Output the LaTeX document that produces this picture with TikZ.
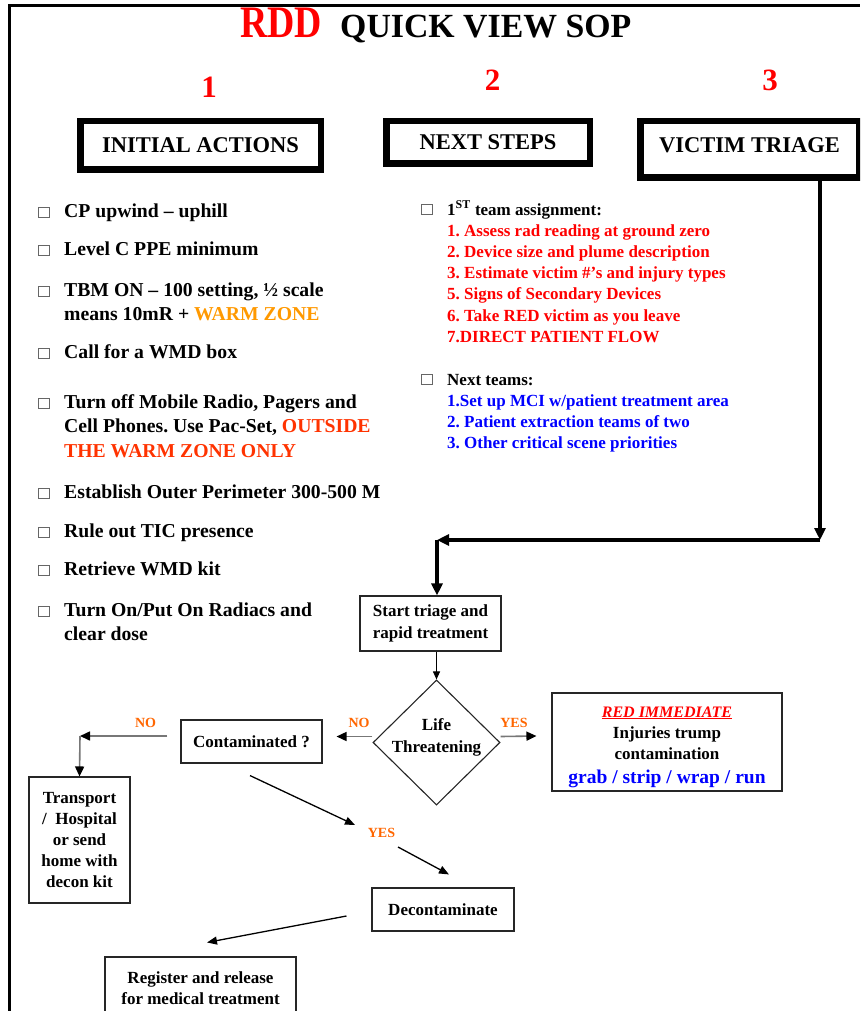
\documentclass[tikz,border=0pt]{standalone}
\usepackage{fontspec}
\setmainfont{Liberation Serif}
\usepackage{graphicx}
\usetikzlibrary{arrows.meta,shapes.geometric}
\definecolor{warm}{HTML}{FF9900}
\definecolor{outside}{HTML}{FF3300}
\definecolor{lblorange}{HTML}{FF6600}
\definecolor{tblue}{HTML}{0000FF}
\definecolor{tred}{HTML}{FF0000}
\definecolor{conn}{HTML}{777777}
\newcommand{\setfs}[2]{\fontsize{#1}{#2}\selectfont}
\newcommand{\rowsl}[1]{\begin{tabular}[t]{@{}l@{}}#1\end{tabular}}
\newcommand{\rowsc}[1]{\begin{tabular}[t]{@{}c@{}}#1\end{tabular}}
\frenchspacing
\begin{document}
\begin{tikzpicture}[x=1pt,y=-1pt,
  hdr/.style={draw, line width=6.5pt, inner sep=0pt, font=\setfs{22.5}{27}\bfseries},
  fbox/.style={draw=black!85, line width=1.1pt, inner sep=0pt, align=center, font=\setfs{17}{21.2}\bfseries},
  item/.style={anchor=base west, inner sep=0pt, font=\setfs{19.7}{24.7}\bfseries},
  mitem/.style={anchor=base west, inner sep=0pt, font=\setfs{17}{21.2}\bfseries},
  chk/.style={draw=black!60, line width=0.7pt, minimum width=11pt, minimum height=10pt, inner sep=0pt},
  num/.style={anchor=base, inner sep=0pt, text=tred, font=\setfs{31}{36}\bfseries},
  lbl/.style={text=lblorange, font=\setfs{14}{16}\bfseries, inner sep=0pt},
  thickarr/.style={line width=3.3pt, -{Triangle[length=12pt,width=11pt]}},
  thinarr/.style={line width=1pt, -{Triangle[length=8pt,width=7pt]}},
  grayarr/.style={draw=conn, line width=1.6pt, -{Triangle[length=10pt,width=9pt,color=black]}},
  diagarr/.style={line width=1.3pt, -{Triangle[length=10pt,width=8pt]}},
]
\useasboundingbox (0,0) rectangle (860,1011);
\clip (0,0) rectangle (860,1011);
\fill[white] (0,0) rectangle (860,1011);
\draw[line width=3pt] (9,1011) -- (9,5.3) -- (860,5.3);

% title
\node[anchor=base west, inner sep=0pt, text=tred, font=\setfs{45}{50}\bfseries] (rdd) at (240,38) {\scalebox{0.84}[1]{RDD}};
\node[anchor=base west, inner sep=0pt, font=\setfs{33.8}{40}\bfseries] (title) at (340,38) {QUICK VIEW SOP};

% numbers
\node[num] (n1) at (209,98) {1};
\node[num] (n2) at (492.5,91) {2};
\node[num] (n3) at (770,91) {3};

% headers
\node[hdr, minimum width=240.5pt, minimum height=48.5pt] (h1) at (200.5,145.5) {INITIAL ACTIONS};
\node[hdr, minimum width=203.5pt, minimum height=42.5pt] (h2) at (488,142.5) {NEXT STEPS};
\node[hdr, minimum width=218.5pt, minimum height=56.5pt] (victim) at (749.5,149.5) {\raisebox{9pt}{VICTIM TRIAGE}};

% left column
\node[chk] (c1) at (44,212) {};
\node[item] (i1) at (64,217) {CP upwind – uphill};
\node[chk] (c2) at (44,250) {};
\node[item] (i2) at (64,255) {Level C PPE minimum};
\node[chk] (c3) at (44,291) {};
\node[item] (i3) at (64,296) {\rowsl{TBM ON – 100 setting, ½ scale\\ means 10mR + \textcolor{warm}{WARM ZONE}}};
\node[chk] (c4) at (44,353) {};
\node[item] (i4) at (64,358) {Call for a WMD box};
\node[chk] (c5) at (44,403) {};
\node[item] (i5) at (64,408) {\rowsl{Turn off Mobile Radio, Pagers and\\ Cell Phones. Use Pac-Set, \textcolor{outside}{OUTSIDE}\\ \textcolor{outside}{THE WARM ZONE ONLY}}};
\node[chk] (c6) at (44,493) {};
\node[item] (i6) at (64,498) {Establish Outer Perimeter 300-500 M};
\node[chk] (c7) at (44,532) {};
\node[item] (i7) at (64,537) {Rule out TIC presence};
\node[chk] (c8) at (44,570) {};
\node[item] (i8) at (64,575) {Retrieve WMD kit};
\node[chk] (c9) at (44,611) {};
\node[item] (i9) at (64,616) {\rowsl{Turn On/Put On Radiacs and\\ clear dose}};

% middle column
\node[chk] (c10) at (427,209.5) {};
\node[mitem] (m1) at (447,215) {\rowsl{1\textsuperscript{ST} team assignment:\\
  \textcolor{tred}{1. Assess rad reading at ground zero}\\
  \textcolor{tred}{2. Device size and plume description}\\
  \textcolor{tred}{3. Estimate victim \#’s and injury types}\\
  \textcolor{tred}{5. Signs of Secondary Devices}\\
  \textcolor{tred}{6. Take RED victim as you leave}\\
  \textcolor{tred}{7.DIRECT PATIENT FLOW}}};
\node[chk] (c11) at (427,379.5) {};
\node[mitem] (m2) at (447,385) {\rowsl{Next teams:\\
  \textcolor{tblue}{1.Set up MCI w/patient treatment area}\\
  \textcolor{tblue}{2. Patient extraction teams of two}\\
  \textcolor{tblue}{3. Other critical scene priorities}}};

% flowchart
\node[fbox, minimum width=141pt, minimum height=55pt] (start) at (430.5,623.5) {Start triage and\\rapid treatment};
\node[diamond, draw=black!85, line width=1.1pt, minimum width=127pt, minimum height=125pt, inner sep=0pt] (life) at (436.5,742.5) {};
\node[align=center, inner sep=0pt, font=\setfs{17}{22}\bfseries] (lifetxt) at (436.5,737) {Life\\Threatening};
\node[fbox, minimum width=141pt, minimum height=43pt] (contam) at (251.5,741.5) {Contaminated ?};
\node[fbox, minimum width=101pt, minimum height=126pt] (transport) at (79.5,840) {Transport\\/~~Hospital\\or send\\home with\\decon kit};
\node[fbox, minimum width=230pt, minimum height=98pt] (red) at (667,742) {};
\node[anchor=base, inner sep=0pt, font=\setfs{17}{21}\bfseries] (redtxt) at (667,717) {\rowsc{\textcolor{tred}{\setfs{16}{21}\itshape\underline{RED IMMEDIATE}}\\ Injuries trump\\ contamination\\[3pt] \textcolor{tblue}{\setfs{19.5}{21}grab / strip / wrap / run}}};
\node[fbox, minimum width=142pt, minimum height=43pt] (decon) at (443,909.5) {Decontaminate};
\node[fbox, minimum width=191pt, minimum height=62pt] (register) at (200.5,988) {Register and release\\for medical treatment};

% labels
\node[lbl] (no1) at (359,722.5) {NO};
\node[lbl] (yes1) at (514,722.5) {YES};
\node[lbl] (no2) at (145.5,722.5) {NO};
\node[lbl] (yes2) at (381.5,833) {YES};

% connectors
\coordinate (bend1) at (820,540);
\coordinate (bend2) at (437,540);
\coordinate (nocorner) at (80,736);
\draw[thickarr] (victim.south -| bend1) -- (bend1);
\draw[thickarr] (bend1) -- (bend2);
\draw[thickarr] (bend2) -- (start.north -| bend2);
\draw[thinarr] (life.north |- start.south) -- (life.north);
\draw[grayarr] ([yshift=6pt]life.west) -- ([yshift=5pt,xshift=14pt]contam.east);
\draw[grayarr] ([yshift=6pt]life.east) -- ([yshift=6pt,xshift=-15pt]red.west);
\draw[grayarr] ([yshift=5.5pt,xshift=-13pt]contam.west) -- (nocorner);
\draw[grayarr] (nocorner) -- (transport.north);
\draw[diagarr] ([xshift=-1.5pt,yshift=-12pt]contam.south) -- ([xshift=-26.5pt,yshift=8pt]yes2.center);
\draw[diagarr] ([xshift=16.5pt,yshift=-14pt]yes2.center) -- ([xshift=6pt,yshift=13pt]decon.north);
\draw[diagarr] ([xshift=-25pt,yshift=-6.5pt]decon.west) -- ([xshift=6.5pt,yshift=14pt]register.north);
\end{tikzpicture}
\end{document}
